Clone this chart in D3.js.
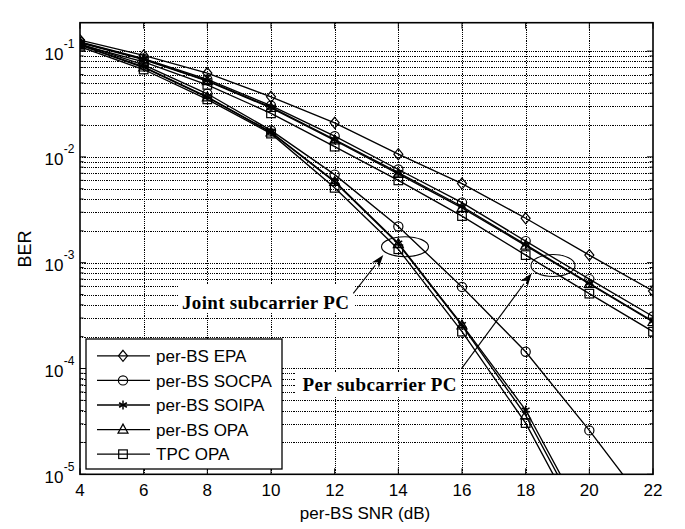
<!DOCTYPE html>
<html><head><meta charset="utf-8">
<script src="https://cdn.jsdelivr.net/npm/d3@7"></script>
<style>body{margin:0;background:#fff}svg{display:block}</style>
</head><body>
<svg id="chart" width="685" height="529"></svg>
<script>
// ---- data ----
const snr = [4, 6, 8, 10, 12, 14, 16, 18, 20, 22];
const xTicks = [4, 6, 8, 10, 12, 14, 16, 18, 20, 22];
const yTickExps = [-1, -2, -3, -4, -5];
const legendLabels = ["per-BS EPA", "per-BS SOCPA", "per-BS SOIPA", "per-BS OPA", "TPC OPA"];
const legendMarkers = ["diamond", "circle", "star", "triangle", "square"];
// per subcarrier power constraint (shallow curves)
const perEPA   = [0.127, 0.091, 0.062, 0.037, 0.021, 0.0106, 0.0056, 0.00263, 0.00118, 0.00054];
const perSOCPA = [0.122, 0.085, 0.054, 0.0305, 0.0157, 0.0076, 0.0037, 0.00160, 0.00070, 0.00031];
const perSOIPA = [0.121, 0.084, 0.0525, 0.0295, 0.0146, 0.0071, 0.0034, 0.00148, 0.00064, 0.00028];
const perOPA   = [0.120, 0.083, 0.052, 0.029, 0.0143, 0.0069, 0.0033, 0.00145, 0.00063, 0.000275];
const perTPC   = [0.115, 0.079, 0.048, 0.0258, 0.0125, 0.0060, 0.00276, 0.00118, 0.00051, 0.000223];
// joint subcarrier power constraint (steep curves)
const jointSOCPA = [0.117, 0.074, 0.0395, 0.0178, 0.0068, 0.0022, 0.00059, 0.000144, 0.000026, 0.0000042];
const jointSOIPA = [0.115, 0.071, 0.037, 0.0172, 0.0059, 0.00153, 0.00026, 0.0000405, 0.0000031];
const jointOPA   = [0.114, 0.070, 0.0365, 0.0170, 0.0058, 0.00150, 0.000255, 0.000036, 0.00000275];
const jointTPC   = [0.110, 0.067, 0.035, 0.0166, 0.0051, 0.00134, 0.000223, 0.0000305, 0.0000023];
const annotations = ["Joint subcarrier PC", "Per subcarrier PC"];

const series = [
  {v: perEPA, m: "diamond"}, {v: perSOCPA, m: "circle"}, {v: perSOIPA, m: "star"},
  {v: perOPA, m: "triangle"}, {v: perTPC, m: "square"},
  {v: jointSOCPA, m: "circle"}, {v: jointSOIPA, m: "star"},
  {v: jointOPA, m: "triangle"}, {v: jointTPC, m: "square"}
];

// ---- layout ----
const L = 80, R = 653, T = 22.7, B = 474.3;
const svg = d3.select("#chart");
const x = d3.scaleLinear().domain([4, 22]).range([L, R]);
const yTop = Math.pow(10, -3 + (262.7 - T) / 105.8);
const y = d3.scaleLog().domain([1e-5, yTop]).range([B, T]);
const font = "Liberation Sans, Arial, sans-serif";

svg.append("defs").append("clipPath").attr("id", "clip")
  .append("rect").attr("x", L).attr("y", T).attr("width", R - L).attr("height", B - T);

// grid
const grid = svg.append("g").attr("stroke", "#000").attr("stroke-width", 1)
  .attr("stroke-dasharray", "1.2,1").attr("fill", "none").attr("shape-rendering", "crispEdges");
xTicks.slice(1, -1).forEach(t => {
  const xx = Math.round(x(t)) + 0.5;
  grid.append("line").attr("x1", xx).attr("x2", xx).attr("y1", T).attr("y2", B);
});
const yGridVals = [];
for (let e = -5; e <= -1; e++) for (let k = 1; k <= 9; k++) {
  const v = k * Math.pow(10, e);
  if (v > 1e-5 && v < yTop) yGridVals.push(v);
}
yGridVals.forEach(v => {
  const yy = Math.round(y(v)) + 0.5;
  grid.append("line").attr("x1", L).attr("x2", R).attr("y1", yy).attr("y2", yy);
});

// marker drawer
function drawMarker(g, m, cx, cy) {
  const s = g.append("g").attr("fill", "none").attr("stroke", "#000").attr("stroke-width", 1.2);
  if (m === "diamond") s.append("path").attr("d", `M${cx},${cy-5.5}L${cx+4.5},${cy}L${cx},${cy+5.5}L${cx-4.5},${cy}Z`);
  else if (m === "circle") s.append("circle").attr("cx", cx).attr("cy", cy).attr("r", 4.6);
  else if (m === "square") s.append("rect").attr("x", cx - 4.3).attr("y", cy - 4.3).attr("width", 8.6).attr("height", 8.6);
  else if (m === "triangle") s.append("path").attr("d", `M${cx},${cy-5.5}L${cx+5},${cy+3.5}L${cx-5},${cy+3.5}Z`);
  else if (m === "star") {
    const r = 4.5;
    [90, 30, 150].forEach(a => {
      const dx = r * Math.cos(a * Math.PI / 180), dy = r * Math.sin(a * Math.PI / 180);
      s.append("line").attr("x1", cx - dx).attr("y1", cy - dy).attr("x2", cx + dx).attr("y2", cy + dy).attr("stroke-width", 1.5);
    });
  }
}

// curves
const plot = svg.append("g").attr("clip-path", "url(#clip)");
const line = d3.line().x((d, i) => x(snr[i])).y(d => y(d));
series.forEach(s => {
  plot.append("path").datum(s.v).attr("d", line).attr("fill", "none")
    .attr("stroke", "#000").attr("stroke-width", 1.35);
});
series.forEach(s => {
  s.v.forEach((d, i) => {
    if (d >= 1e-5) drawMarker(plot, s.m, x(snr[i]), y(d));
  });
});

// axes box
svg.append("rect").attr("x", L).attr("y", T).attr("width", R - L).attr("height", B - T)
  .attr("fill", "none").attr("stroke", "#000").attr("stroke-width", 1.6);

// ticks (inward)
const ticks = svg.append("g").attr("stroke", "#000").attr("stroke-width", 1);
xTicks.forEach(t => {
  ticks.append("line").attr("x1", x(t)).attr("x2", x(t)).attr("y1", B).attr("y2", B - 6);
  ticks.append("line").attr("x1", x(t)).attr("x2", x(t)).attr("y1", T).attr("y2", T + 6);
});
yGridVals.concat([1e-5]).forEach(v => {
  const major = Math.abs(Math.log10(v) - Math.round(Math.log10(v))) < 1e-9;
  const len = major ? 6 : 3.5;
  ticks.append("line").attr("x1", L).attr("x2", L + len).attr("y1", y(v)).attr("y2", y(v));
  ticks.append("line").attr("x1", R).attr("x2", R - len).attr("y1", y(v)).attr("y2", y(v));
});

// tick labels
xTicks.forEach(t => {
  svg.append("text").attr("x", x(t)).attr("y", 496).attr("text-anchor", "middle")
    .attr("font-family", font).attr("font-size", 17).text(t);
});
yTickExps.forEach(e => {
  const yy = y(Math.pow(10, e));
  svg.append("text").attr("x", 63.5).attr("y", yy + 8.5).attr("text-anchor", "end")
    .attr("font-family", font).attr("font-size", 17).text("10");
  svg.append("text").attr("x", 63.8).attr("y", yy - 3.5).attr("text-anchor", "start")
    .attr("font-family", font).attr("font-size", 12).text(e);
});

// axis labels
svg.append("text").attr("x", 365).attr("y", 519).attr("text-anchor", "middle")
  .attr("font-family", font).attr("font-size", 17).text("per-BS SNR (dB)");
svg.append("text").attr("transform", "translate(31,249) rotate(-90)").attr("text-anchor", "middle")
  .attr("font-family", font).attr("font-size", 18).text("BER");

// legend
const lg = svg.append("g");
lg.append("rect").attr("x", 86).attr("y", 339).attr("width", 196).attr("height", 130)
  .attr("fill", "#fff").attr("stroke", "#000").attr("stroke-width", 1.3);
legendLabels.forEach((lab, i) => {
  const ly = 355.8 + i * 24.6;
  lg.append("line").attr("x1", 97).attr("x2", 150).attr("y1", ly).attr("y2", ly)
    .attr("stroke", "#000").attr("stroke-width", 1.3);
  drawMarker(lg, legendMarkers[i], 123, ly);
  lg.append("text").attr("x", 156).attr("y", ly + 6.2).attr("font-family", font)
    .attr("font-size", 17).text(lab);
});

// annotations
const serif = "Liberation Serif, Times New Roman, serif";
svg.append("rect").attr("x", 178).attr("y", 285).attr("width", 177).attr("height", 28).attr("fill", "#fff");
svg.append("text").attr("x", 182).attr("y", 308.5).attr("font-family", serif).attr("font-weight", "bold")
  .attr("font-size", 19).attr("textLength", 167).attr("lengthAdjust", "spacing").text(annotations[0]);
svg.append("rect").attr("x", 296).attr("y", 372).attr("width", 165).attr("height", 24).attr("fill", "#fff");
svg.append("text").attr("x", 302.5).attr("y", 390.5).attr("font-family", serif).attr("font-weight", "bold")
  .attr("font-size", 19).attr("textLength", 154).attr("lengthAdjust", "spacing").text(annotations[1]);

const ann = svg.append("g").attr("stroke", "#000").attr("fill", "none").attr("stroke-width", 1.1);
ann.append("ellipse").attr("cx", 405).attr("cy", 246.7).attr("rx", 23.5).attr("ry", 10);
ann.append("ellipse").attr("cx", 553).attr("cy", 265.5).attr("rx", 22).attr("ry", 11);

function arrow(x1, y1, x2, y2) {
  const ang = Math.atan2(y2 - y1, x2 - x1);
  const len = 13, w = 4.5;
  const bx = x2 - len * Math.cos(ang), by = y2 - len * Math.sin(ang);
  svg.append("line").attr("x1", x1).attr("y1", y1).attr("x2", bx).attr("y2", by)
    .attr("stroke", "#000").attr("stroke-width", 1.1);
  const px = -Math.sin(ang) * w, py = Math.cos(ang) * w;
  const ix = x2 - len * 0.7 * Math.cos(ang), iy = y2 - len * 0.7 * Math.sin(ang);
  svg.append("path")
    .attr("d", `M${x2},${y2}L${bx + px},${by + py}L${ix},${iy}L${bx - px},${by - py}Z`)
    .attr("fill", "#000");
}
arrow(353.3, 293.3, 383.3, 255);
arrow(461.7, 368.3, 531.7, 273.3);
</script>
</body></html>
